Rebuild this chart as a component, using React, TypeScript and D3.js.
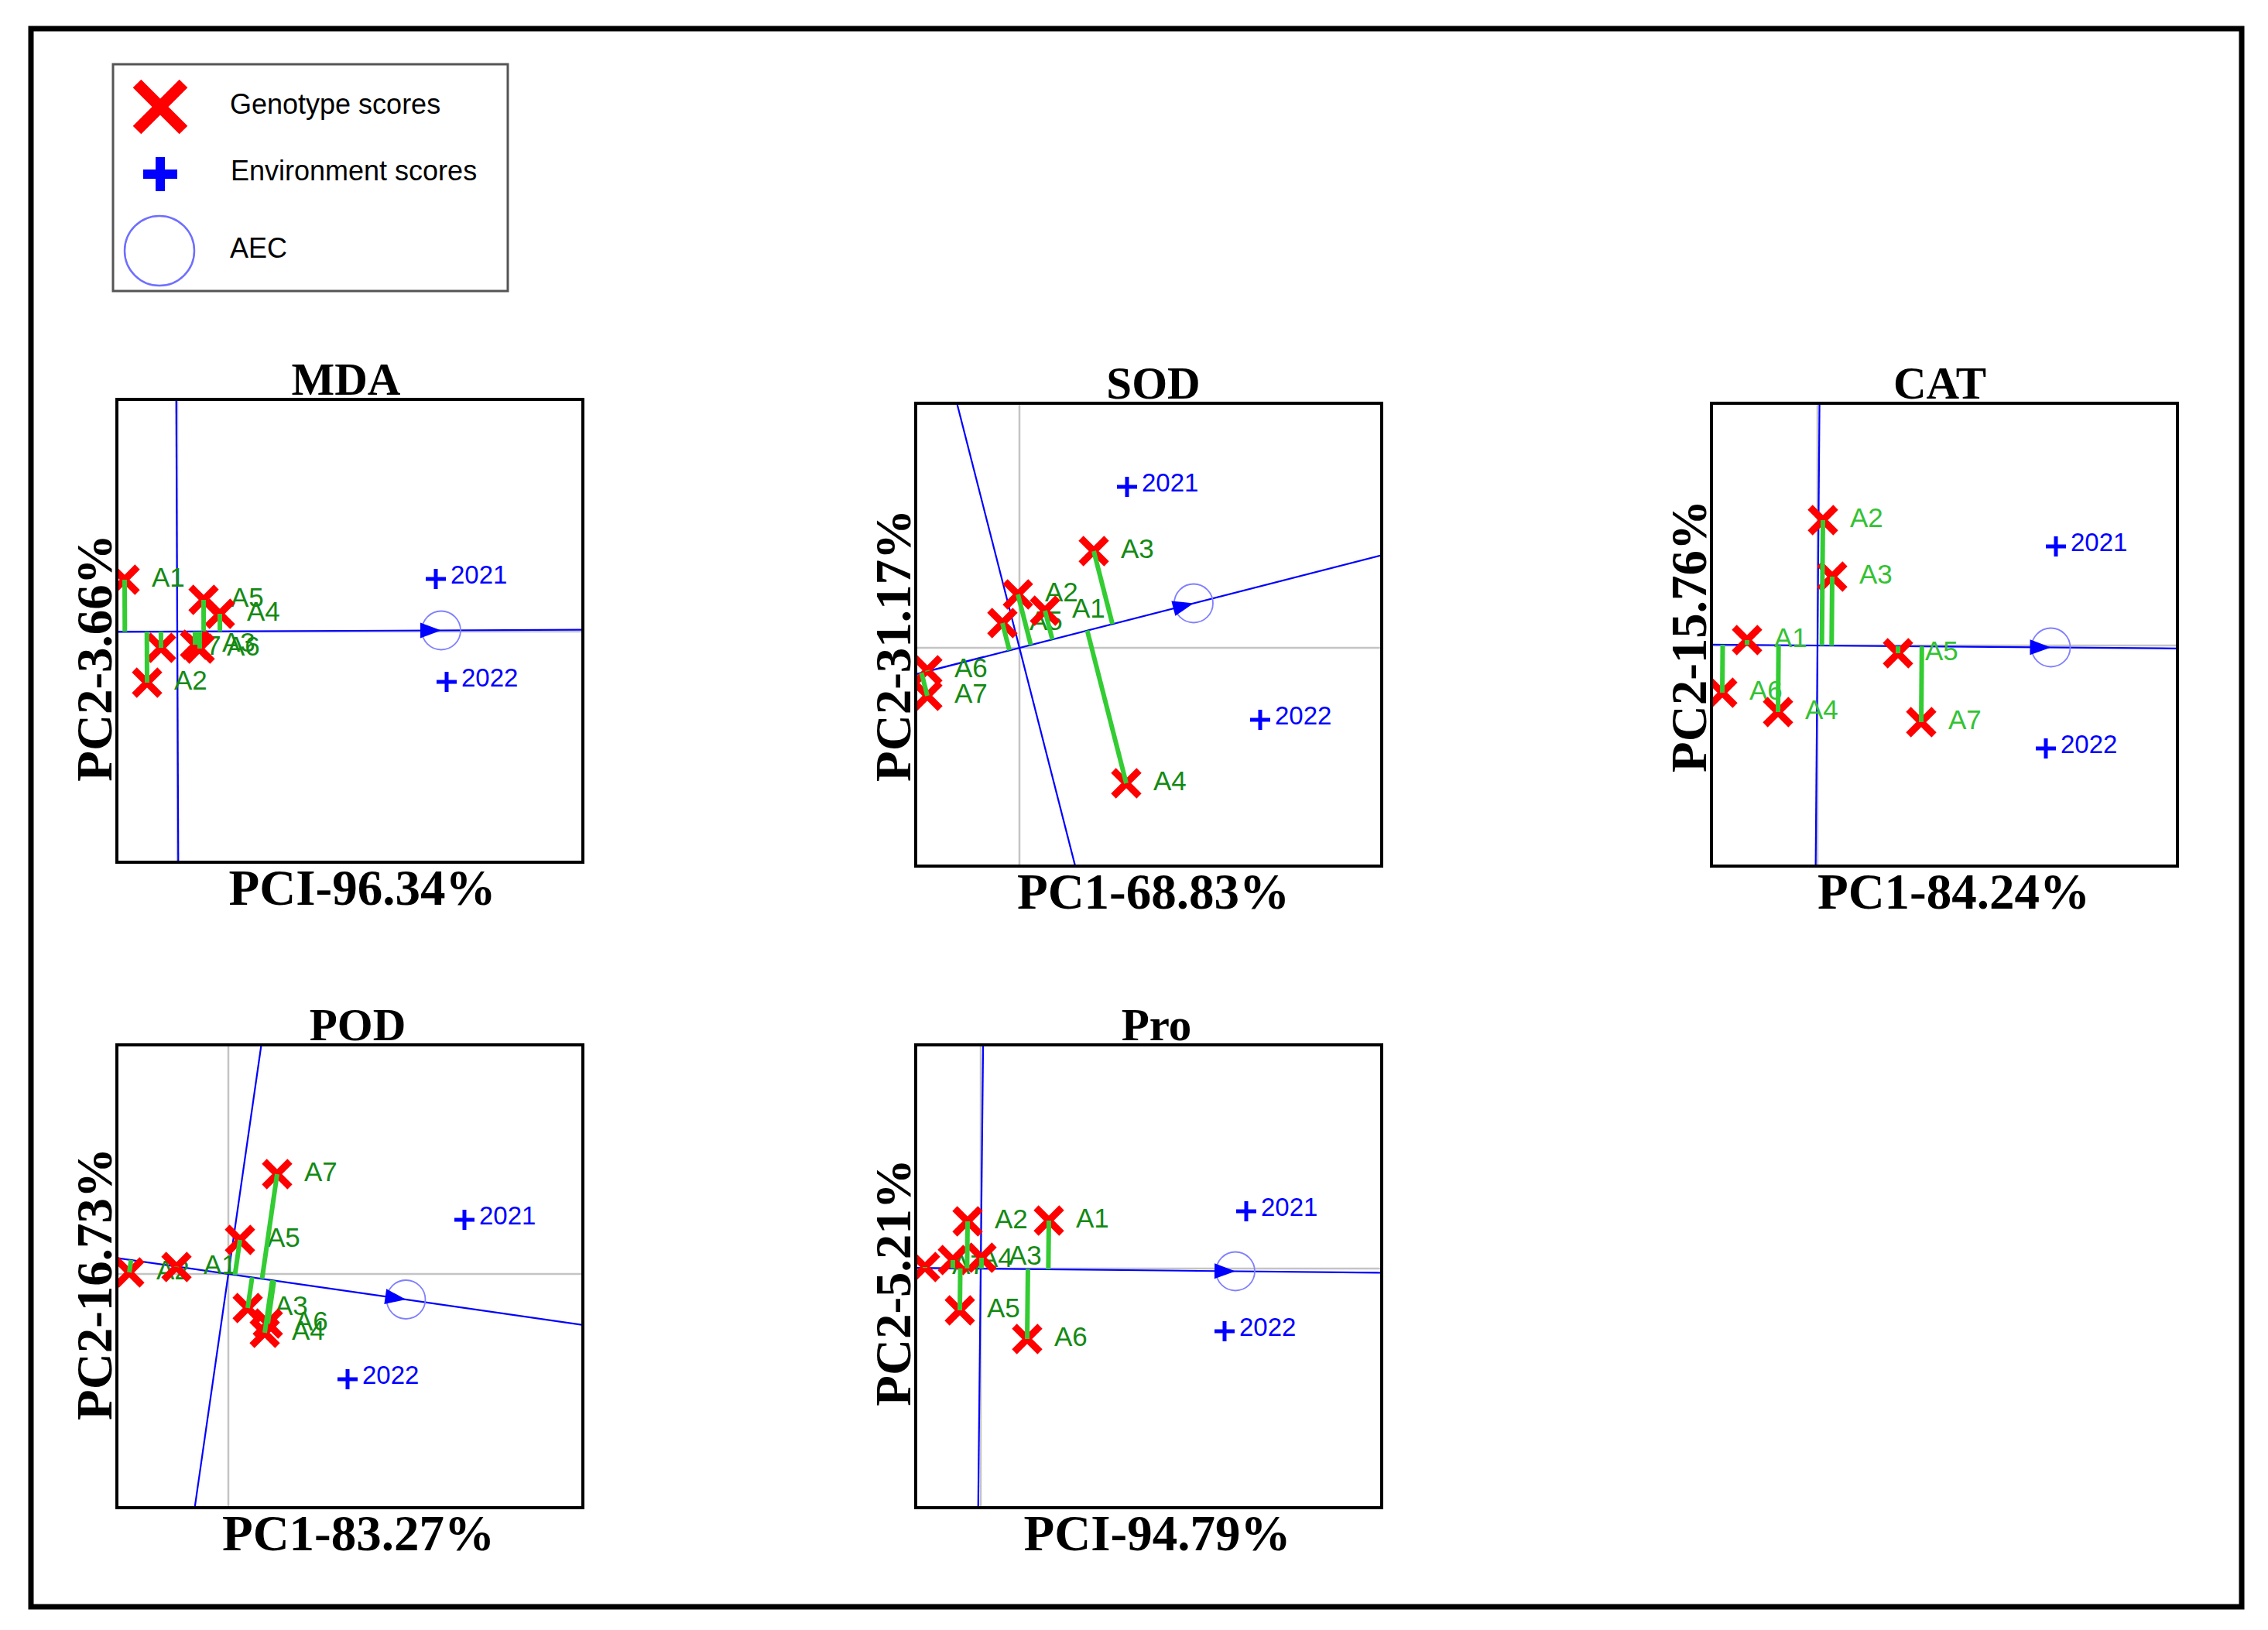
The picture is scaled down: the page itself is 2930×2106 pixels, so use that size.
import React from 'react';
import * as d3 from 'd3';

// ---------------- DATA ----------------
const PANEL_NAMES = ['MDA', 'SOD', 'CAT', 'POD', 'Pro'];
const PC1_LABELS = ['PCI-96.34%', 'PC1-68.83%', 'PC1-84.24%', 'PC1-83.27%', 'PCI-94.79%'];
const PC2_LABELS = ['PC2-3.66%', 'PC2-31.17%', 'PC2-15.76%', 'PC2-16.73%', 'PC2-5.21%'];
const GENOTYPES = ['A1', 'A2', 'A3', 'A4', 'A5', 'A6', 'A7'];
const ENVIRONMENTS = ['2021', '2022'];

// genotype scores [PC1, PC2], in GENOTYPES order
const MDA_GENO = [[-0.68, 0.67], [-0.39, -0.66], [0.23, -0.17], [0.55, 0.23], [0.34, 0.41], [0.29, -0.22], [-0.21, -0.21]];
const SOD_GENO = [[0.33, 0.48], [-0.02, 0.69], [0.96, 1.25], [1.38, -1.75], [-0.22, 0.32], [-1.19, -0.29], [-1.19, -0.62]];
const CAT_GENO = [[-0.91, 0.07], [0.07, 1.62], [0.19, 0.89], [-0.51, -0.86], [1.04, -0.10], [-1.23, -0.61], [1.34, -0.99]];
const POD_GENO = [[-0.67, 0.09], [-1.28, 0.02], [0.25, -0.44], [0.47, -0.76], [0.15, 0.44], [0.51, -0.64], [0.63, 1.29]];
const PRO_GENO = [[0.88, 0.62], [-0.17, 0.61], [0.01, 0.14], [-0.36, 0.11], [-0.27, -0.54], [0.60, -0.91], [-0.72, 0.02]];

// environment scores [PC1, PC2], in ENVIRONMENTS order
const MDA_ENV = [[3.34, 0.68], [3.48, -0.65]];
const SOD_ENV = [[1.39, 2.08], [3.11, -0.93]];
const CAT_ENV = [[3.08, 1.28], [2.95, -1.33]];
const POD_ENV = [[3.05, 0.70], [1.54, -1.36]];
const PRO_ENV = [[3.43, 0.74], [3.15, -0.81]];

// plotted ranges of each biplot
const X_DOMAINS = [[-0.78, 5.24], [-1.34, 4.68], [-1.37, 4.65], [-1.44, 4.58], [-0.84, 5.18]];
const Y_DOMAINS = [[-2.98, 3.00], [-2.82, 3.16], [-2.85, 3.13], [-3.02, 2.96], [-3.09, 2.89]];

const GENO_SETS = [MDA_GENO, SOD_GENO, CAT_GENO, POD_GENO, PRO_GENO];
const ENV_SETS = [MDA_ENV, SOD_ENV, CAT_ENV, POD_ENV, PRO_ENV];

// ---------------- LAYOUT ----------------
const W = 602;
const H = 598;
const LAYOUT = [
  { bx: 151, by: 516, titleDx: -5, xlabDx: 16, ylabDy: 35, labelColor: '#138a13' },
  { bx: 1183, by: 521, titleDx: 6, xlabDx: 6, ylabDy: 14, labelColor: '#138a13' },
  { bx: 2211, by: 521, titleDx: -6, xlabDx: 12, ylabDy: 2, labelColor: '#33c233' },
  { bx: 151, by: 1350, titleDx: 10, xlabDx: 11, ylabDy: 10, labelColor: '#138a13' },
  { bx: 1183, by: 1350, titleDx: 10, xlabDx: 11, ylabDy: 8, labelColor: '#138a13' },
];

const SANS = '"Liberation Sans", Arial, Helvetica, sans-serif';
const SERIF = '"Liberation Serif", "Times New Roman", Times, serif';
const RED = '#ff0000';
const BLUE = '#0000ff';
const LIME = '#33cc33';

function xPath(cx: number, cy: number, s: number) {
  return `M${cx - s},${cy - s}L${cx + s},${cy + s}M${cx - s},${cy + s}L${cx + s},${cy - s}`;
}
function plusPath(cx: number, cy: number, s: number) {
  return `M${cx - s},${cy}L${cx + s},${cy}M${cx},${cy - s}L${cx},${cy + s}`;
}

function Panel({ i }: { i: number }) {
  const L = LAYOUT[i];
  const geno = GENO_SETS[i];
  const env = ENV_SETS[i];
  const x = d3.scaleLinear().domain(X_DOMAINS[i]).range([L.bx, L.bx + W]);
  const y = d3.scaleLinear().domain(Y_DOMAINS[i]).range([L.by + H, L.by]);

  const mean = [d3.mean(env, (d) => d[0]) as number, d3.mean(env, (d) => d[1]) as number];
  const len = Math.hypot(mean[0], mean[1]);
  const u = [mean[0] / len, mean[1] / len];
  const v = [-u[1], u[0]];
  const T = 20;

  const line = d3.line<number[]>().x((d) => x(d[0])).y((d) => y(d[1]));
  const abscissa = line([[-T * u[0], -T * u[1]], [T * u[0], T * u[1]]]) as string;
  const ordinate = line([[-T * v[0], -T * v[1]], [T * v[0], T * v[1]]]) as string;
  const hAxis = line([[-T, 0], [T, 0]]) as string;
  const vAxis = line([[0, -T], [0, T]]) as string;

  // arrow head in pixel space, tip at average environment
  const tip = [x(mean[0]), y(mean[1])];
  const dp = [x(mean[0]) - x(0), y(mean[1]) - y(0)];
  const dl = Math.hypot(dp[0], dp[1]);
  const du = [dp[0] / dl, dp[1] / dl];
  const dn = [-du[1], du[0]];
  const aL = 27, aW = 10;
  const base = [tip[0] - aL * du[0], tip[1] - aL * du[1]];
  const arrow = `M${tip[0]},${tip[1]}L${base[0] + aW * dn[0]},${base[1] + aW * dn[1]}L${base[0] - aW * dn[0]},${base[1] - aW * dn[1]}Z`;

  const proj = geno.map((g) => {
    const t = g[0] * u[0] + g[1] * u[1];
    return [t * u[0], t * u[1]];
  });

  const clipId = `clip-${i}`;
  const cx = L.bx + W / 2;
  const cy = L.by + H / 2;

  return (
    <g>
      <defs>
        <clipPath id={clipId}>
          <rect x={L.bx} y={L.by} width={W} height={H} />
        </clipPath>
      </defs>
      <rect x={L.bx} y={L.by} width={W} height={H} fill="#fff" />
      <g clipPath={`url(#${clipId})`}>
        <path d={hAxis} stroke="#c4c4c4" strokeWidth={2.5} fill="none" />
        <path d={vAxis} stroke="#c4c4c4" strokeWidth={2.5} fill="none" />
        <path d={abscissa} stroke={BLUE} strokeWidth={2.2} fill="none" />
        <path d={ordinate} stroke={BLUE} strokeWidth={2.2} fill="none" />
        <circle cx={tip[0]} cy={tip[1]} r={25} fill="none" stroke="#8080ff" strokeWidth={1.8} />
        <path d={arrow} fill={BLUE} />
        {geno.map((g, k) => (
          <text key={`l${k}`} x={x(g[0]) + 35} y={y(g[1]) + 9} fontFamily={SANS} fontSize={35} fill={L.labelColor}>
            {GENOTYPES[k]}
          </text>
        ))}
        {geno.map((g, k) => (
          <path key={`x${k}`} d={xPath(x(g[0]), y(g[1]), 16.5)} stroke={RED} strokeWidth={9} fill="none" />
        ))}
        {geno.map((g, k) => (
          <line key={`p${k}`} x1={x(g[0])} y1={y(g[1])} x2={x(proj[k][0])} y2={y(proj[k][1])} stroke={LIME} strokeWidth={6} />
        ))}
        {env.map((e, k) => (
          <g key={`e${k}`}>
            <path d={plusPath(x(e[0]), y(e[1]), 13)} stroke={BLUE} strokeWidth={5} fill="none" />
            <text x={x(e[0]) + 19} y={y(e[1]) + 6} fontFamily={SANS} fontSize={33} fill={BLUE}>
              {ENVIRONMENTS[k]}
            </text>
          </g>
        ))}
      </g>
      <rect x={L.bx} y={L.by} width={W} height={H} fill="none" stroke="#000" strokeWidth={4} />
      <text x={cx + L.titleDx} y={L.by - 6} textAnchor="middle" fontFamily={SERIF} fontWeight="bold" fontSize={59} fill="#000">
        {PANEL_NAMES[i]}
      </text>
      <text x={cx + L.xlabDx} y={L.by + H + 55} textAnchor="middle" fontFamily={SERIF} fontWeight="bold" fontSize={65} fill="#000">
        {PC1_LABELS[i]}
      </text>
      <text
        transform={`translate(${L.bx - 7},${cy + L.ylabDy}) rotate(-90)`}
        textAnchor="middle"
        fontFamily={SERIF}
        fontWeight="bold"
        fontSize={65}
        fill="#000"
      >
        {PC2_LABELS[i]}
      </text>
    </g>
  );
}

function Legend() {
  return (
    <g>
      <rect x={146} y={83} width={510} height={293} fill="#fff" stroke="#555" strokeWidth={3} />
      <path d={xPath(207, 138, 30)} stroke={RED} strokeWidth={15} fill="none" />
      <text x={297} y={147} fontFamily={SANS} fontSize={36} fill="#000">Genotype scores</text>
      <path d={plusPath(207, 225, 22)} stroke={BLUE} strokeWidth={12} fill="none" />
      <text x={298} y={233} fontFamily={SANS} fontSize={36} fill="#000">Environment scores</text>
      <circle cx={206} cy={324} r={45} fill="none" stroke="#6f6fff" strokeWidth={2.5} />
      <text x={297} y={333} fontFamily={SANS} fontSize={36} fill="#000">AEC</text>
    </g>
  );
}

export default function App() {
  return (
    <svg
      width={2930}
      height={2106}
      viewBox="0 0 2930 2106"
      style={{ position: 'absolute', left: 0, top: 0, display: 'block', background: '#fff' }}
    >
      <rect x={0} y={0} width={2930} height={2106} fill="#fff" />
      <rect x={40} y={37} width={2856} height={2039} fill="none" stroke="#000" strokeWidth={7} />
      <Legend />
      {PANEL_NAMES.map((_, i) => (
        <Panel key={i} i={i} />
      ))}
    </svg>
  );
}
